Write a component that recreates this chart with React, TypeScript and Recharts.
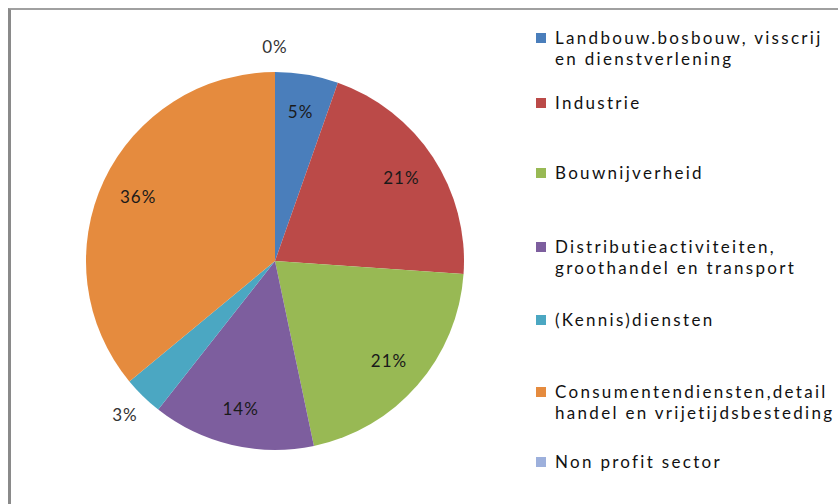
import React from 'react';
import { PieChart, Pie, Cell } from 'recharts';

const categories = [
  'Landbouw.bosbouw, visscrij en dienstverlening',
  'Industrie',
  'Bouwnijverheid',
  'Distributieactiviteiten, groothandel en transport',
  '(Kennis)diensten',
  'Consumentendiensten,detail handel en vrijetijdsbesteding',
  'Non profit sector',
];
const shares = [5.4, 20.7, 20.6, 13.9, 3.4, 36.0, 0.0];
const colors = ['#4A7EBB', '#BB4A48', '#98B954', '#7D5E9E', '#4BA7C2', '#E58B3E', '#9DB0DC'];

const data = categories.map((name, i) => ({ name, value: shares[i] }));

const FONT = 'Lato, "Open Sans", sans-serif';
const RAD = Math.PI / 180;

const renderLabel = (props: any) => {
  const { cx, cy, midAngle, outerRadius, percent } = props;
  const small = percent < 0.04;
  const r = small ? outerRadius + 26 : outerRadius * 0.8;
  const x = cx + r * Math.cos(-midAngle * RAD);
  const y = cy + r * Math.sin(-midAngle * RAD);
  return (
    <text
      x={x}
      y={y}
      textAnchor="middle"
      dominantBaseline="central"
      fontFamily={FONT}
      fontSize={17}
      letterSpacing={1}
      fill={small ? '#333' : '#1a1a1a'}
    >
      {`${Math.round(percent * 100)}%`}
    </text>
  );
};

const legendTops = [27, 92, 162, 236, 309, 381, 451];

export default function App() {
  return (
    <div style={{ position: 'fixed', left: 0, top: 0, width: 838, height: 504, background: '#fff', overflow: 'hidden' }}>
      <div
        style={{
          position: 'absolute',
          left: 8,
          top: 8,
          width: 900,
          height: 600,
          borderLeft: '3px solid #8a8a8a',
          borderTop: '2px solid #a0a0a0',
        }}
      />
      <div style={{ position: 'absolute', left: 0, top: 0 }}>
        <PieChart width={838} height={504} margin={{ top: 0, right: 0, bottom: 0, left: 0 }}>
          <Pie
            data={data}
            dataKey="value"
            nameKey="name"
            cx={275}
            cy={261}
            outerRadius={189}
            startAngle={90}
            endAngle={-270}
            stroke="none"
            label={renderLabel}
            labelLine={false}
            isAnimationActive={false}
          >
            {data.map((d, i) => (
              <Cell key={d.name} fill={colors[i]} />
            ))}
          </Pie>
        </PieChart>
      </div>
      {data.map((d, i) => (
        <div
          key={d.name}
          style={{
            position: 'absolute',
            left: 536,
            top: legendTops[i],
            width: 302,
            fontFamily: FONT,
            fontSize: 17,
            lineHeight: '21px',
            color: '#111',
          }}
        >
          <span
            style={{
              position: 'absolute',
              left: 0,
              top: 6,
              width: 10,
              height: 10,
              background: colors[i],
            }}
          />
          <div style={{ marginLeft: 19, width: 283, letterSpacing: 2.3 }}>{d.name}</div>
        </div>
      ))}
    </div>
  );
}
